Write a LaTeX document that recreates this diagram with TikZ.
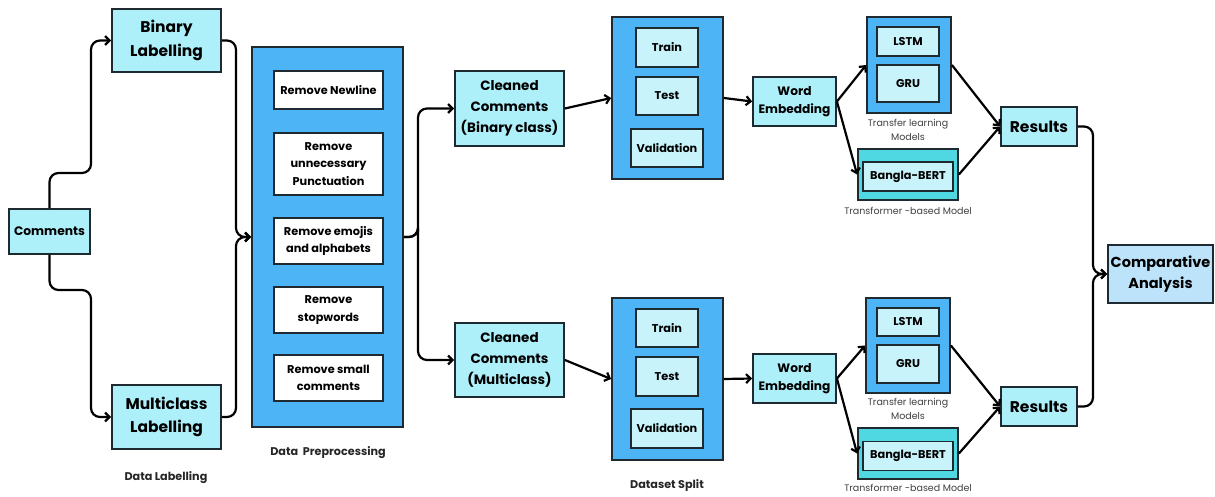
\documentclass[tikz,border=0pt]{standalone}
\usepackage{fontspec}
\setmainfont{Poppins}
\usepackage{tikz}
\usetikzlibrary{arrows.meta, positioning}
\definecolor{cCyan}{HTML}{AEF0FA}
\definecolor{cBlue}{HTML}{4DB4F6}
\definecolor{cPale}{HTML}{C9F3FA}
\definecolor{cSky}{HTML}{BCE3FA}
\definecolor{cTurq}{HTML}{50D8E2}
\definecolor{cEdge}{HTML}{1E2A30}

\tikzset{
  box/.style={draw=cEdge, line width=1.8pt, fill=cCyan, align=center,
              font=\fontsize{15.5}{23.5}\selectfont\bfseries, inner sep=0pt},
  bigbox/.style={draw=cEdge, line width=1.8pt, fill=cBlue, inner sep=0pt},
  inbox/.style={draw=cEdge, line width=1.8pt, fill=white, align=center,
              font=\fontsize{11.3}{17.5}\selectfont\bfseries, inner sep=0pt,
              minimum width=109pt},
  splitbox/.style={inbox, fill=cPale, minimum width=62pt},
  caption/.style={font=\fontsize{11.2}{13}\selectfont\bfseries, text=black!85},
  thincap/.style={font=\fontsize{9.5}{14}\selectfont, text=black!75, align=center},
  conn/.style={line width=2.2pt, -{Straight Barb[length=4.5pt,width=9pt]}, rounded corners=9pt}
}

\begin{document}
\begin{tikzpicture}[x=1pt, y=-1pt]
    \useasboundingbox (0,0) rectangle (1215,497);
    % Data labelling
    \node[box, font=\fontsize{12.3}{15}\selectfont\bfseries, minimum width=81pt, minimum height=45pt] (com) at (49.5,231.5) {Comments};
    \node[box, minimum width=109pt, minimum height=63pt] (bin) at (166.5,40.5) {Binary\\Labelling};
    \node[box, minimum width=109pt, minimum height=64pt] (mul) at (166.5,417) {Multiclass\\Labelling};
    \node[caption] (labcap) at (166,478) {Data Labelling};
    \draw[conn] (com.north) |- (91,173) |- (bin.west);
    \draw[conn] (com.south) |- (91,290) |- (mul.west);
    % Data preprocessing
    \node[bigbox, minimum width=151pt, minimum height=380pt] (prep) at (327.5,237) {};
    \node[inbox, minimum height=38pt] (rmA) at (328.5,90) {Remove Newline};
    \node[inbox, minimum height=62pt] (rmB) at (328.5,164) {Remove\\unnecessary\\Punctuation};
    \node[inbox, minimum height=46pt] (rmC) at (328.5,241) {Remove emojis\\and alphabets};
    \node[inbox, minimum height=46pt] (rmD) at (328.5,310) {Remove\\stopwords};
    \node[inbox, minimum height=46pt] (rmE) at (328.5,378) {Remove small\\comments};
    \node[caption] (prepcap) at (328,453) {Data\ \ Preprocessing};
    \coordinate (mergeL) at (236,237);
    \draw[conn] (bin.east) -| (mergeL) -- (prep.west);
    \draw[conn] (mul.east) -| (mergeL) -- (prep.west);
    % Cleaned comments
    \node[box, font=\fontsize{13.5}{21}\selectfont\bfseries, minimum width=109pt, minimum height=75pt] (clnA) at (509.5,108.5) {Cleaned\\Comments\\(Binary class)};
    \node[box, font=\fontsize{13.5}{21}\selectfont\bfseries, minimum width=109pt, minimum height=74pt] (clnB) at (509.5,360) {Cleaned\\Comments\\(Multiclass)};
    \draw[conn] (prep.east) -| (418,237) |- (clnA.west);
    \draw[conn] (prep.east) -| (418,237) |- (clnB.west);
    % Dataset split
    \node[bigbox, minimum width=111pt, minimum height=162pt] (splA) at (667.5,98) {};
    \node[splitbox, minimum height=39pt] (trnA) at (667,47.5) {Train};
    \node[splitbox, minimum height=38pt] (tstA) at (667,96) {Test};
    \node[splitbox, minimum width=72pt, minimum height=38pt] (valA) at (667,148) {Validation};
    \node[bigbox, minimum width=111pt, minimum height=162pt] (splB) at (667.5,379) {};
    \node[splitbox, minimum height=38pt] (trnB) at (667,328) {Train};
    \node[splitbox, minimum height=39pt] (tstB) at (667,376.5) {Test};
    \node[splitbox, minimum width=72pt, minimum height=39pt] (valB) at (667,428.5) {Validation};
    \node[caption] (splcap) at (667,486) {Dataset Split};
    \draw[conn] (clnA.east) -- (splA.west);
    \draw[conn] (clnB.east) -- (splB.west);
    % Word embedding
    \node[box, font=\fontsize{12.2}{18.5}\selectfont\bfseries, minimum width=83pt, minimum height=49pt] (embA) at (794.5,101.5) {Word\\Embedding};
    \node[box, font=\fontsize{12.2}{18.5}\selectfont\bfseries, minimum width=83pt, minimum height=49pt] (embB) at (794.5,378.5) {Word\\Embedding};
    \draw[conn] (splA.east) -- (embA.west);
    \draw[conn] (splB.east) -- (embB.west);
    % Models (binary)
    \node[bigbox, minimum width=84pt, minimum height=96pt] (tlA) at (909,65) {};
    \node[splitbox, minimum height=29pt] (lstmA) at (908,41.5) {LSTM};
    \node[splitbox, minimum height=37pt] (gruA) at (908,83.5) {GRU};
    \node[thincap] (tlcapA) at (908,130) {Transfer learning\\Models};
    \node[bigbox, fill=cTurq, minimum width=100pt, minimum height=51pt] (btA) at (908,174.5) {};
    \node[splitbox, minimum width=90pt, minimum height=29pt] (bertA) at (908,176.5) {Bangla-BERT};
    \node[thincap] (btcapA) at (908,211) {Transformer -based Model};
    % Models (multiclass)
    \node[bigbox, minimum width=84pt, minimum height=95pt] (tlB) at (908,345.5) {};
    \node[splitbox, minimum height=28pt] (lstmB) at (908,322) {LSTM};
    \node[splitbox, minimum height=38pt] (gruB) at (908,364) {GRU};
    \node[thincap] (tlcapB) at (908,408.5) {Transfer learning\\Models};
    \node[bigbox, fill=cTurq, minimum width=100pt, minimum height=51pt] (btB) at (908,453.5) {};
    \node[splitbox, minimum width=90pt, minimum height=29pt] (bertB) at (908,456) {Bangla-BERT};
    \node[thincap] (btcapB) at (908,488) {Transformer -based Model};
    \draw[conn] (embA.east) -- (tlA.west);
    \draw[conn] (embA.east) -- (btA.west);
    \draw[conn] (embB.east) -- (tlB.west);
    \draw[conn] (embB.east) -- (btB.west);
    % Results
    \node[box, minimum width=76pt, minimum height=39pt] (resA) at (1039,126.5) {Results};
    \node[box, minimum width=76pt, minimum height=39pt] (resB) at (1039,406.5) {Results};
    \draw[conn] (tlA.east) -- (resA.west);
    \draw[conn] (btA.east) -- (resA.west);
    \draw[conn] (tlB.east) -- (resB.west);
    \draw[conn] (btB.east) -- (resB.west);
    % Comparative analysis
    \node[box, fill=cSky, font=\fontsize{14.5}{21.5}\selectfont\bfseries, minimum width=105pt, minimum height=58pt] (cmp) at (1160.5,274) {Comparative\\Analysis};
    \coordinate (mergeR) at (1093,274);
    \draw[conn] (resA.east) -| (mergeR) -- (cmp.west);
    \draw[conn] (resB.east) -| (mergeR) -- (cmp.west);
\end{tikzpicture}
\end{document}
